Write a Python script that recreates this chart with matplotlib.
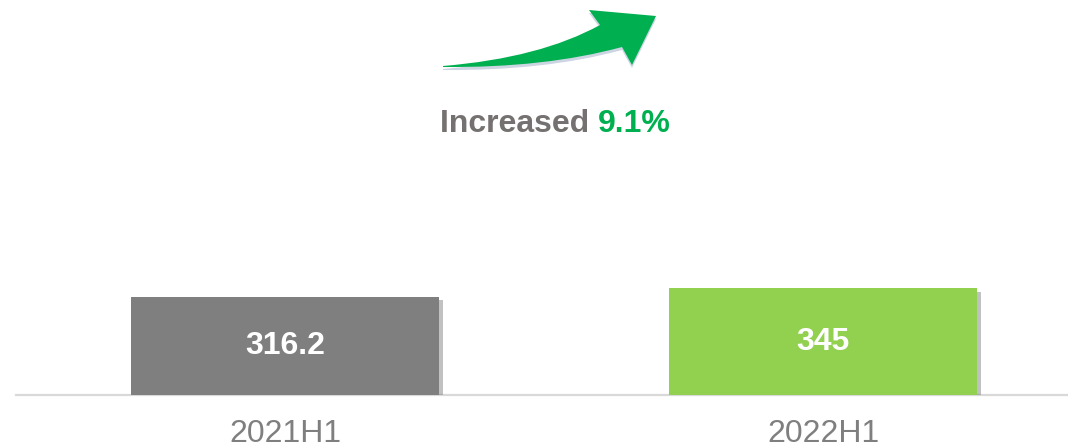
import matplotlib.pyplot as plt
import matplotlib.patheffects as pe
from matplotlib.path import Path
from matplotlib.patches import PathPatch

plt.rcParams['font.family'] = ['Liberation Sans', 'DejaVu Sans']

periods = ["2021H1", "2022H1"]
values = [316.2, 345]
bar_colors = ["#7f7f7f", "#92d050"]
growth = "9.1%"

W, H = 1068, 446
fig = plt.figure(figsize=(W / 100, H / 100), dpi=100)
ax = fig.add_axes([16 / W, 1 - 395 / H, 1 - 16 / W, 395 / H])

shadow = [pe.SimplePatchShadow(offset=(3, -2.5), shadow_rgbFace="#666666", alpha=0.4), pe.Normal()]
bars = ax.bar(range(len(values)), values, width=0.573, color=bar_colors, zorder=3)
for b in bars:
    b.set_path_effects(shadow)

for i, v in enumerate(values):
    ax.text(i, v / 2, f"{v:g}", ha="center", va="center", color="white",
            fontsize=23, fontweight="bold", zorder=4)

ax.set_xlim(-0.5, 1.455)
ax.set_ylim(0, 1274)
ax.set_yticks([])
ax.set_xticks(range(len(periods)))
ax.set_xticklabels(periods, fontsize=23, color="#7f7f7f")
ax.tick_params(axis="x", length=0, pad=17)
for s in ["top", "left", "right"]:
    ax.spines[s].set_visible(False)
ax.spines["bottom"].set_color("#d9d9d9")
ax.spines["bottom"].set_linewidth(1.6)


# curved arrow, drawn in pixel coords (y down)
def fpt(x, y):
    return (x / W, 1 - y / H)


def arrow_path(dy=0):
    pts = [(443, 66), (540, 58), (600, 25), (589, 10), (656, 16), (632, 65), (622, 47),
           (545, 68), (443, 67), (443, 66)]
    codes = [Path.MOVETO, Path.CURVE3, Path.CURVE3, Path.LINETO, Path.LINETO, Path.LINETO,
             Path.LINETO, Path.CURVE3, Path.CURVE3, Path.CLOSEPOLY]
    return Path([fpt(x, y + dy) for x, y in pts], codes)


fig.patches.append(PathPatch(arrow_path(3), transform=fig.transFigure, facecolor="#cdd5e3",
                             edgecolor="none", zorder=1))
fig.patches.append(PathPatch(arrow_path(0), transform=fig.transFigure, facecolor="#00b050",
                             edgecolor="none", zorder=2))

t1 = fig.text(440 / W, 1 - 124 / H, "Increased ", ha="left", va="center",
              fontsize=23, fontweight="bold", color="#767171")
ax.annotate(growth, xy=(1, 0), xycoords=t1, va="bottom", ha="left",
            fontsize=23, fontweight="bold", color="#00b050", annotation_clip=False)

fig.savefig("out.png", dpi=100)
